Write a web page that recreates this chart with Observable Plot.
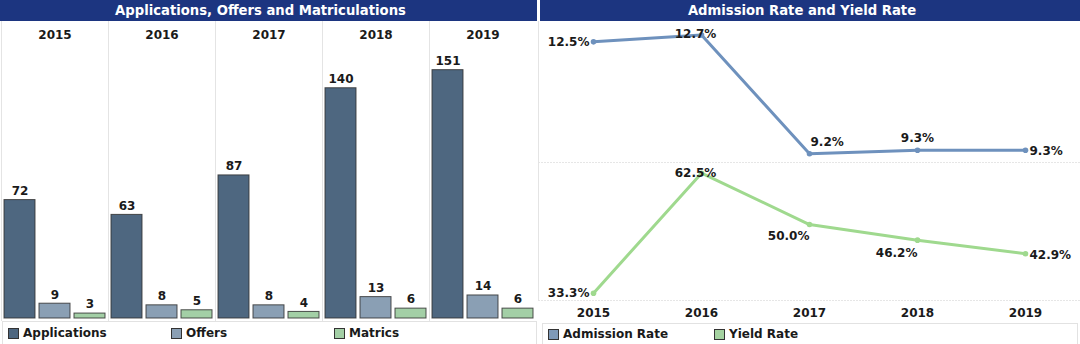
<!DOCTYPE html>
<html><head><meta charset="utf-8">
<script src="https://cdn.jsdelivr.net/npm/d3@7"></script>
<script src="https://cdn.jsdelivr.net/npm/@observablehq/plot@0.6"></script>
<style>
body{margin:0;width:1080px;height:344px;overflow:hidden;background:#fff;font-family:"DejaVu Sans",Verdana,sans-serif;position:relative}
.title{position:absolute;top:0;height:21px;background:#1c3580;color:#fff;font-weight:bold;font-size:13.2px;line-height:21px;text-align:center;box-sizing:border-box;padding-right:16px}
.panel{position:absolute}
.panel svg{display:block;overflow:visible}
.legend{position:absolute;border:1px solid #e2e2e2;box-sizing:border-box;display:flex;align-items:center;font-weight:bold;font-size:12px;color:#1a1a1a;padding-left:5px}
.item{display:flex;align-items:center}
.sw{width:11px;height:11px;border:1px solid #333;box-sizing:border-box;margin-right:4px}
</style></head>
<body>
<div class="title" style="left:0;width:537px">Applications, Offers and Matriculations</div>
<div class="title" style="left:540px;width:540px">Admission Rate and Yield Rate</div>
<div id="bars" class="panel" style="left:0;top:21px"></div>
<div id="adm" class="panel" style="left:538px;top:21px"></div>
<div id="yld" class="panel" style="left:538px;top:162px"></div>
<div id="leg1" class="legend" style="left:2px;top:321px;width:535px;height:24px"></div>
<div id="leg2" class="legend" style="left:542px;top:323px;width:536px;height:22px"></div>
<script>
const years = ["2015","2016","2017","2018","2019"];
const measures = ["Applications","Offers","Matrics"];
const applications = [72,63,87,140,151];
const offers = [9,8,8,13,14];
const matrics = [3,5,4,6,6];
const rateSeries = ["Admission Rate","Yield Rate"];
const admissionRate = [12.5,12.7,9.2,9.3,9.3];
const yieldRate = [33.3,62.5,50.0,46.2,42.9];

const barColors = ["#4e6780","#8a9fb4","#a3cfa6"];
const admColor = "#6e91bd";
const yldColor = "#9fd98e";
const rateSwatch = ["#7f9ab8","#a5d3a1"];
const font = {fontFamily:"'DejaVu Sans',Verdana,sans-serif", fontSize:"12px", fontWeight:"bold", color:"#1a1a1a", background:"transparent"};

const seriesVals = [applications, offers, matrics];
const barData = years.flatMap((y,i)=>measures.map((m,k)=>({year:y, measure:m, value:seriesVals[k][i]})));

document.getElementById("bars").append(Plot.plot({
  width:537, height:299, marginTop:24, marginBottom:2, marginLeft:0, marginRight:0,
  style:font,
  facet:{data:barData, x:"year"},
  fx:{domain:years, padding:0, axis:"top", tickSize:0, tickPadding:7, label:null},
  x:{domain:measures, paddingInner:0.11, paddingOuter:0.075, axis:null},
  y:{domain:[0,166], axis:null},
  color:{domain:measures, range:barColors},
  marks:[
    Plot.frame({anchor:"left", stroke:"#e4e4e4", insetTop:-24, insetBottom:-2}),
    Plot.barY(barData,{x:"measure", y:"value", fill:"measure", stroke:"#333", strokeWidth:1, strokeOpacity:0.85}),
    Plot.text(barData,{x:"measure", y:"value", text:d=>String(d.value), dy:-9, fill:"#1a1a1a", fontWeight:"bold"})
  ]
}));

const rateData = years.map((y,i)=>({year:y, adm:admissionRate[i], yld:yieldRate[i]}));
const admPlace = [{a:"end",dx:-4,dy:0},{a:"middle",dx:-6,dy:-1},{a:"start",dx:1,dy:-12},{a:"middle",dx:0,dy:-12},{a:"start",dx:4,dy:1}];
const yldPlace = [{a:"end",dx:-4,dy:0},{a:"middle",dx:-6,dy:0},{a:"end",dx:0,dy:12},{a:"end",dx:0,dy:13},{a:"start",dx:4,dy:1}];
const fmt = v => v.toFixed(1) + "%";

function labels(key, place){
  return place.map((p,i)=>Plot.text([rateData[i]],{x:"year", y:key, text:d=>fmt(d[key]), textAnchor:p.a, dx:p.dx, dy:p.dy, fill:"#1a1a1a", fontWeight:"bold"}));
}

document.getElementById("adm").append(Plot.plot({
  width:542, height:141, marginTop:0, marginBottom:0, marginLeft:0, marginRight:0,
  style:font,
  x:{type:"point", domain:years, padding:0.5, axis:null},
  y:{domain:[8.94,13.1], axis:null},
  marks:[
    Plot.frame({anchor:"bottom", stroke:"#e6e6e6", strokeDasharray:"1,2"}),
    Plot.frame({anchor:"left", stroke:"#e4e4e4"}),
    Plot.line(rateData,{x:"year", y:"adm", stroke:admColor, strokeWidth:3}),
    Plot.dot(rateData,{x:"year", y:"adm", fill:admColor, r:2.8}),
    ...labels("adm", admPlace)
  ]
}));

document.getElementById("yld").append(Plot.plot({
  width:542, height:160, marginTop:0, marginBottom:22, marginLeft:0, marginRight:0,
  style:font,
  x:{type:"point", domain:years, padding:0.5, tickSize:0, tickPadding:8, label:null},
  y:{domain:[31.52,65.1], axis:null},
  marks:[
    Plot.frame({anchor:"bottom", stroke:"#e6e6e6", strokeDasharray:"1,2"}),
    Plot.frame({anchor:"left", stroke:"#e4e4e4"}),
    Plot.line(rateData,{x:"year", y:"yld", stroke:yldColor, strokeWidth:3}),
    Plot.dot(rateData,{x:"year", y:"yld", fill:yldColor, r:2.8}),
    ...labels("yld", yldPlace)
  ]
}));

function legend(el, names, colors, width){
  const box = document.getElementById(el);
  names.forEach((n,i)=>{
    const it = document.createElement("div");
    it.className = "item"; it.style.width = width + "px";
    const sw = document.createElement("div"); sw.className = "sw"; sw.style.background = colors[i];
    const t = document.createElement("span"); t.textContent = n;
    it.append(sw, t); box.append(it);
  });
}
legend("leg1", measures, barColors, 163);
legend("leg2", rateSeries, rateSwatch, 166);
</script>
</body></html>
